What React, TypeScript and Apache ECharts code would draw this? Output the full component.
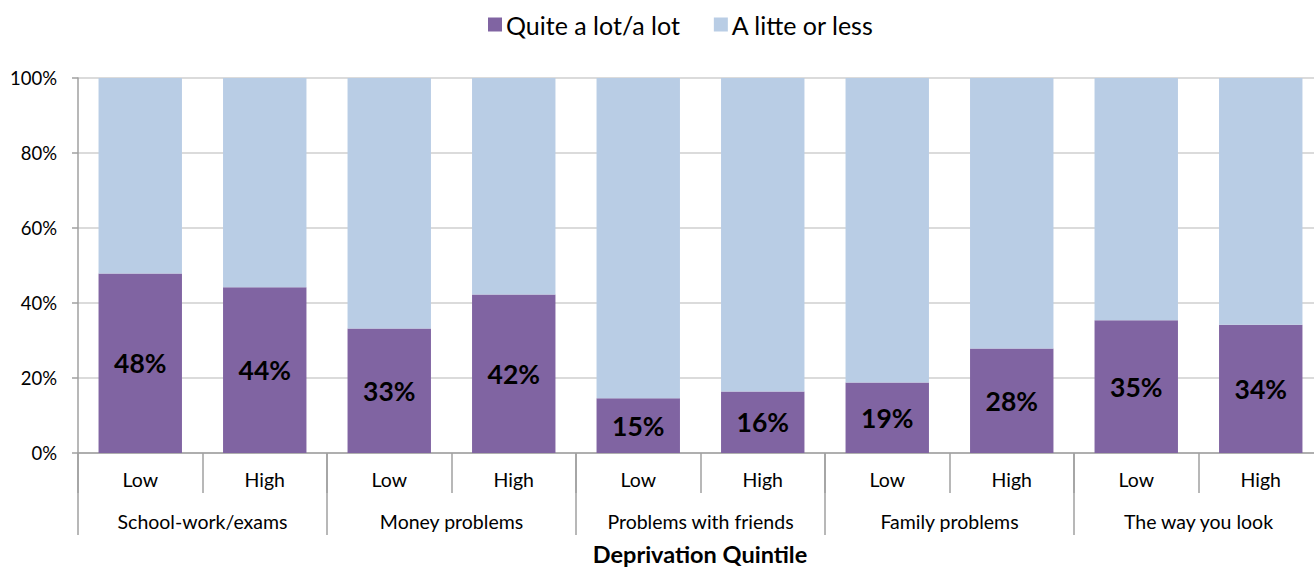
import React, { useEffect, useRef } from "react";
import * as echarts from "echarts";

const quintiles = ["Low", "High", "Low", "High", "Low", "High", "Low", "High", "Low", "High"];
const groups = ["School-work/exams", "Money problems", "Problems with friends", "Family problems", "The way you look"];
const quiteALot = [47.9, 44.2, 33.2, 42.3, 14.6, 16.4, 18.8, 27.9, 35.4, 34.2];
const littleOrLess = [52.1, 55.8, 66.8, 57.7, 85.4, 83.6, 81.2, 72.1, 64.6, 65.8];
const seriesNames = ["Quite a lot/a lot", "A litte or less"];

const FONT = "Lato";

export default function App() {
  const ref = useRef<HTMLDivElement>(null);
  useEffect(() => {
    if (!ref.current) return;
    const chart = echarts.init(ref.current, undefined, { renderer: "svg" });
    chart.setOption({
      animation: false,
      textStyle: { fontFamily: FONT },
      legend: {
        top: 7,
        left: 483,
        itemWidth: 14,
        itemHeight: 14,
        itemGap: 34,
        icon: "rect",
        textStyle: { fontSize: 25, color: "#000", fontFamily: FONT, padding: [0, 0, 0, -1] },
        data: seriesNames,
      },
      grid: { left: 78, width: 1245, top: 78, height: 375 },
      xAxis: [
        {
          type: "category",
          data: quintiles,
          position: "bottom",
          axisLine: { show: true, lineStyle: { color: "#A0A0A0", width: 1.5 } },
          axisTick: { show: true, length: 40, interval: 0, lineStyle: { color: "#A0A0A0", width: 1.5 } },
          axisLabel: { interval: 0, margin: 16, fontSize: 19.5, color: "#000", fontFamily: FONT },
        },
        {
          type: "category",
          data: groups,
          position: "bottom",
          axisLine: { show: false },
          axisTick: { show: true, length: 82, interval: 0, lineStyle: { color: "#A0A0A0", width: 1.5 } },
          axisLabel: { interval: 0, margin: 58, fontSize: 19.5, color: "#000", fontFamily: FONT },
        },
      ],
      yAxis: {
        type: "value",
        min: 0,
        max: 100,
        interval: 20,
        axisLine: { show: true, lineStyle: { color: "#A0A0A0", width: 1.5 } },
        axisTick: { show: true, length: 6, lineStyle: { color: "#A0A0A0", width: 1.5 } },
        axisLabel: { formatter: "{value}%", fontSize: 18.5, color: "#000", margin: 21, fontFamily: FONT },
        splitLine: { show: true, lineStyle: { color: "#CFCFCF", width: 1.5 } },
      },
      series: [
        {
          name: seriesNames[0],
          type: "bar",
          stack: "total",
          xAxisIndex: 0,
          data: quiteALot,
          barCategoryGap: "33%",
          itemStyle: { color: "#8064A2" },
          label: {
            show: true,
            position: "inside",
            formatter: (p: any) => Math.round(p.value) + "%",
            fontSize: 26.5,
            fontWeight: "bold",
            color: "#000",
            fontFamily: FONT,
          },
        },
        {
          name: seriesNames[1],
          type: "bar",
          stack: "total",
          xAxisIndex: 0,
          data: littleOrLess,
          barCategoryGap: "33%",
          itemStyle: { color: "#B9CDE5" },
        },
      ],
      graphic: [
        {
          type: "text",
          x: 700,
          y: 554,
          style: {
            text: "Deprivation Quintile",
            fontSize: 23.5,
            fontWeight: "bold",
            fill: "#000",
            fontFamily: FONT,
            align: "center",
            verticalAlign: "middle",
          },
        },
      ],
    });
    return () => chart.dispose();
  }, []);
  return (
    <div style={{ position: "fixed", left: 0, top: 0, width: 1314, height: 569, overflow: "hidden", background: "#fff" }}>
      <div ref={ref} style={{ width: 1330, height: 569 }} />
    </div>
  );
}
